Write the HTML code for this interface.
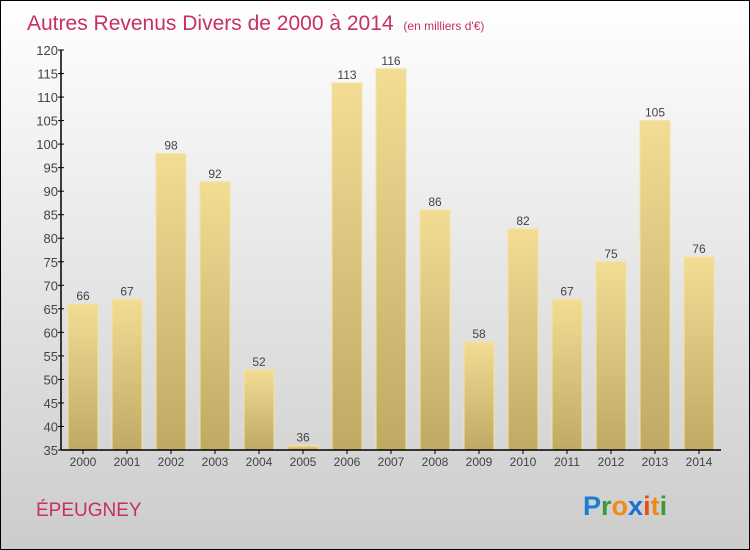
<!DOCTYPE html>
<html><head><meta charset="utf-8"><style>
body{margin:0;}
svg{display:block;font-family:"Liberation Sans",sans-serif;}
</style></head><body>
<svg id="c" width="750" height="550" xmlns="http://www.w3.org/2000/svg">
<defs>
<linearGradient id="bg" x1="0" y1="0" x2="0" y2="1"><stop offset="0" stop-color="#ffffff"/><stop offset="1" stop-color="#cccccc"/></linearGradient>
<linearGradient id="bar" x1="0" y1="0" x2="0" y2="1"><stop offset="0" stop-color="#f3dc94"/><stop offset="1" stop-color="#c0a964"/></linearGradient>
</defs>
<rect x="0.5" y="0.5" width="749" height="549" fill="url(#bg)" stroke="#000"/>
<text x="27" y="30" font-size="21" fill="#c8305e">Autres Revenus Divers de 2000 à 2014 <tspan font-size="12" dx="4">(en milliers d'€)</tspan></text>
<g id="plot"></g>
<text x="36" y="516" font-size="19" fill="#c8305e">ÉPEUGNEY</text>
<text x="583" y="515" font-size="27" font-weight="bold"><tspan fill="#1a7fd4">P</tspan><tspan fill="#3a9a3a">r</tspan><tspan fill="#f08a1a">o</tspan><tspan fill="#1a6fd4">x</tspan><tspan fill="#e85010">i</tspan><tspan fill="#f08a1a">t</tspan><tspan fill="#3a9a3a">i</tspan></text>
</svg>
<script>
const categories=["2000","2001","2002","2003","2004","2005","2006","2007","2008","2009","2010","2011","2012","2013","2014"];
const values=[66,67,98,92,52,36,113,116,86,58,82,67,75,105,76];
const yTicks=[35,40,45,50,55,60,65,70,75,80,85,90,95,100,105,110,115,120];
const NS="http://www.w3.org/2000/svg";
const g=document.getElementById("plot");
const x0=61,band=44,yMin=35,yMax=120,yTop=50,yBot=450;
function y(v){return yBot-(v-yMin)/(yMax-yMin)*(yBot-yTop);}
function xc(i){return x0+band*i+band/2;}
function mk(t,a,txt){const e=document.createElementNS(NS,t);for(const k in a)e.setAttribute(k,a[k]);if(txt!==undefined)e.textContent=txt;g.appendChild(e);return e;}
values.forEach((v,i)=>{
 const r=mk("rect",{x:xc(i)-15,y:y(v),width:30,height:yBot-y(v),fill:"url(#bar)",stroke:"#f5e3a0","stroke-width":1});
 
 
 const t=mk("text",{x:xc(i),y:y(v)-4,"font-size":12,fill:"#444","text-anchor":"middle"},String(v));
 
 
 const xl=mk("text",{x:xc(i),y:466,"font-size":12,fill:"#444","text-anchor":"middle"},categories[i]);
 
 
 const tk=mk("line",{x1:xc(i),x2:xc(i),y1:yBot,y2:yBot+4,stroke:"#000"});
 
 
});
yTicks.forEach(v=>{
 const l=mk("line",{x1:x0-3,x2:x0+3,y1:y(v),y2:y(v),stroke:"#000"});
 
 
 const t=mk("text",{x:x0-3,y:y(v)+5,"font-size":13,fill:"#444","text-anchor":"end"},String(v));
 
 
});
const ya=mk("line",{x1:x0,x2:x0,y1:yTop,y2:yBot,stroke:"#000","stroke-width":1.5});


const xa=mk("line",{x1:x0,x2:x0+band*categories.length,y1:yBot,y2:yBot,stroke:"#000","stroke-width":1.5});


</script>
</body></html>
